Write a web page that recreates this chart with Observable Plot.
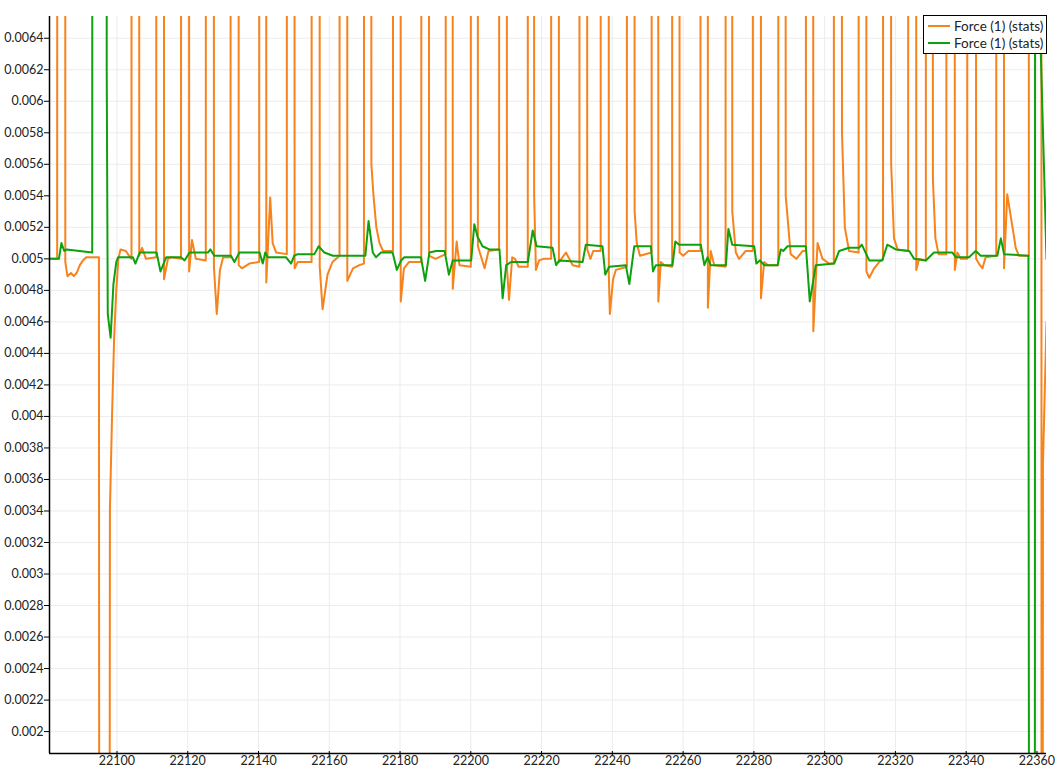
<!DOCTYPE html>
<html><head><meta charset="utf-8">
<script src="https://cdn.jsdelivr.net/npm/d3@7"></script>
<script src="https://cdn.jsdelivr.net/npm/@observablehq/plot@0.6"></script>
<style>
body{margin:0;background:#fff;}
#wrap{position:relative;width:1059px;height:769px;}
#legend{position:absolute;left:923px;top:15px;width:122px;height:37px;border:1px solid #000;background:#fff;font:13.5px Lato, sans-serif;color:#222;}
.row{position:absolute;left:4px;height:16px;display:flex;align-items:center;white-space:nowrap;}
.sw{width:22px;height:2px;margin-right:4px;}
</style></head>
<body><div id="wrap"><div id="legend"></div></div>
<script>
const seriesNames = ["Force (1) (stats)", "Force (1) (stats)"];
const seriesColors = ["#f7831c", "#0ea10e"];
const xTicks = [22100,22120,22140,22160,22180,22200,22220,22240,22260,22280,22300,22320,22340,22360];
const yTicks = [0.002,0.0022,0.0024,0.0026,0.0028,0.003,0.0032,0.0034,0.0036,0.0038,0.004,0.0042,0.0044,0.0046,0.0048,0.005,0.0052,0.0054,0.0056,0.0058,0.006,0.0062,0.0064];
const xDomain = [22080.93, 22362.7];
const yDomain = [0.001861, 0.006538];

// orange series: [time, value]; 0.02 / 0.0 = far off the visible range
const orangeSeries = [[22080.9,0.00500],[22083.1,0.00500],[22083.2,0.02],[22085.3,0.02],[22085.4,0.00498],[22086.0,0.00489],[22087.0,0.00491],[22087.8,0.00489],[22088.6,0.00491],[22089.5,0.00496],[22090.4,0.00499],[22091.3,0.00501],[22094.9,0.00501],[22095.0,0.0],[22097.9,0.0],[22098.0,0.0034],[22098.6,0.0040],[22099.2,0.0045],[22099.8,0.0048],[22100.4,0.00500],[22101.0,0.00506],[22102.5,0.00505],[22103.7,0.00501],[22104.1,0.00500],[22104.2,0.02],[22106.2,0.02],[22106.3,0.00502],[22107.1,0.00507],[22108.2,0.00500],[22111.1,0.00501],[22111.2,0.02],[22113.2,0.02],[22113.3,0.00487],[22114.4,0.00500],[22115.3,0.00501],[22118.1,0.00500],[22118.2,0.02],[22120.3,0.02],[22120.4,0.00492],[22121.2,0.00512],[22122.3,0.00500],[22125.1,0.00499],[22125.2,0.02],[22127.3,0.02],[22127.4,0.00495],[22128.2,0.00465],[22129.1,0.00493],[22130.0,0.00501],[22132.1,0.00501],[22132.2,0.02],[22134.3,0.02],[22134.4,0.00496],[22135.3,0.00494],[22137.4,0.00497],[22140.2,0.00498],[22140.3,0.02],[22142.1,0.02],[22142.2,0.00485],[22143.3,0.00539],[22144.0,0.00510],[22145.0,0.00504],[22148.0,0.00503],[22148.1,0.02],[22150.1,0.02],[22150.2,0.00494],[22151.1,0.00498],[22155.0,0.00498],[22155.1,0.02],[22157.2,0.02],[22157.3,0.00495],[22158.1,0.00468],[22159.5,0.00490],[22160.9,0.00498],[22162.9,0.00502],[22163.0,0.02],[22165.0,0.02],[22165.1,0.00486],[22166.7,0.00494],[22168.5,0.00496],[22169.8,0.00497],[22169.9,0.02],[22171.7,0.02],[22171.9,0.0056],[22172.5,0.0054],[22173.3,0.0052],[22174.2,0.00510],[22175.2,0.00505],[22178.0,0.00505],[22178.1,0.02],[22180.1,0.02],[22180.2,0.00473],[22181.1,0.00494],[22182.5,0.00498],[22186.0,0.00498],[22186.1,0.02],[22188.1,0.02],[22188.2,0.00502],[22190.0,0.00500],[22192.9,0.00503],[22193.0,0.02],[22194.8,0.02],[22194.9,0.00481],[22196.0,0.00511],[22196.8,0.00496],[22200.0,0.00495],[22200.1,0.02],[22201.9,0.02],[22202.0,0.00508],[22203.9,0.00494],[22205.0,0.00505],[22208.0,0.00506],[22208.1,0.02],[22210.1,0.02],[22210.2,0.00495],[22210.8,0.00474],[22211.7,0.00501],[22212.5,0.00500],[22213.5,0.00495],[22216.1,0.00495],[22216.2,0.02],[22217.7,0.02],[22217.9,0.0054],[22218.4,0.00493],[22219.3,0.00499],[22220.5,0.00500],[22222.7,0.00500],[22222.8,0.02],[22224.8,0.02],[22224.9,0.00498],[22225.6,0.00500],[22226.9,0.00504],[22228.8,0.00496],[22230.7,0.00495],[22230.8,0.02],[22232.8,0.02],[22232.9,0.00506],[22233.8,0.00500],[22234.6,0.00505],[22236.7,0.00505],[22236.8,0.02],[22238.9,0.02],[22239.0,0.00490],[22239.3,0.00465],[22240.2,0.00487],[22241.0,0.00493],[22244.1,0.00495],[22244.2,0.02],[22246.1,0.02],[22246.3,0.0053],[22246.9,0.00510],[22247.8,0.00502],[22251.1,0.00504],[22251.2,0.02],[22252.8,0.02],[22253.0,0.00473],[22253.7,0.00498],[22254.7,0.00496],[22256.9,0.00495],[22257.0,0.02],[22258.9,0.02],[22259.0,0.00504],[22260.0,0.00502],[22261.5,0.00505],[22264.9,0.00505],[22265.0,0.02],[22266.9,0.02],[22267.0,0.00469],[22267.8,0.00505],[22268.8,0.00496],[22272.0,0.00495],[22272.1,0.02],[22273.7,0.02],[22273.9,0.0053],[22274.9,0.00504],[22275.8,0.00500],[22277.7,0.00505],[22279.7,0.00505],[22279.8,0.02],[22281.9,0.02],[22282.0,0.00475],[22282.9,0.00498],[22284.0,0.00496],[22286.9,0.00496],[22287.0,0.02],[22288.8,0.02],[22289.0,0.0054],[22290.4,0.00503],[22292.0,0.00500],[22293.8,0.00505],[22294.7,0.00505],[22294.8,0.02],[22296.6,0.02],[22296.8,0.00454],[22298.0,0.00510],[22299.4,0.00500],[22301.3,0.00497],[22302.6,0.00497],[22302.7,0.02],[22304.6,0.02],[22304.9,0.0058],[22305.7,0.0052],[22306.9,0.00505],[22309.6,0.00504],[22309.7,0.02],[22311.7,0.02],[22311.8,0.00492],[22312.6,0.00488],[22314.0,0.00494],[22315.4,0.00498],[22316.5,0.00500],[22316.6,0.02],[22318.5,0.02],[22318.8,0.0056],[22319.6,0.00513],[22320.6,0.00506],[22323.6,0.00505],[22323.7,0.02],[22325.7,0.02],[22325.9,0.00493],[22326.7,0.00500],[22328.6,0.00499],[22328.7,0.02],[22330.4,0.02],[22330.6,0.0055],[22331.3,0.00513],[22332.2,0.00503],[22334.4,0.00503],[22334.5,0.02],[22336.6,0.02],[22336.8,0.00493],[22337.5,0.00504],[22338.5,0.00500],[22340.3,0.00500],[22340.4,0.02],[22342.7,0.02],[22342.8,0.00500],[22343.6,0.00497],[22344.6,0.00494],[22345.5,0.00501],[22348.5,0.00502],[22348.6,0.02],[22350.5,0.02],[22350.7,0.00494],[22351.6,0.00541],[22353.1,0.00520],[22354.0,0.00507],[22354.9,0.00502],[22357.7,0.00502],[22357.8,0.02],[22361.2,0.02],[22361.3,0.0],[22361.6,0.0],[22361.7,0.0037],[22362.7,0.0046]];

const greenSeries = [[22080.9,0.00500],[22083.6,0.00500],[22084.3,0.00510],[22085.1,0.00505],[22085.8,0.00506],[22093.0,0.00504],[22093.2,0.02],[22097.0,0.02],[22097.1,0.0062],[22097.4,0.00465],[22098.2,0.00450],[22099.0,0.00484],[22099.8,0.00498],[22100.3,0.00501],[22104.5,0.00501],[22105.2,0.00497],[22106.4,0.00504],[22111.2,0.00504],[22112.3,0.00492],[22113.9,0.00501],[22118.1,0.00501],[22119.1,0.00499],[22120.5,0.00504],[22125.7,0.00504],[22126.4,0.00506],[22127.5,0.00502],[22132.2,0.00502],[22133.2,0.00498],[22134.6,0.00504],[22140.3,0.00504],[22141.2,0.00497],[22141.9,0.00504],[22142.6,0.00501],[22147.8,0.00501],[22149.2,0.00497],[22150.1,0.00502],[22151.1,0.00503],[22155.8,0.00503],[22157.0,0.00508],[22158.6,0.00504],[22161.0,0.00502],[22170.2,0.00502],[22171.1,0.00524],[22172.3,0.00504],[22173.2,0.00501],[22174.6,0.00504],[22177.9,0.00504],[22179.1,0.00493],[22180.3,0.00499],[22181.2,0.00501],[22185.9,0.00501],[22187.1,0.00486],[22188.3,0.00504],[22190.2,0.00505],[22192.6,0.00505],[22193.8,0.00490],[22194.9,0.00499],[22200.1,0.00499],[22201.0,0.00522],[22201.9,0.00514],[22203.3,0.00508],[22205.2,0.00506],[22208.1,0.00506],[22209.0,0.00475],[22210.0,0.00496],[22211.4,0.00498],[22216.1,0.00498],[22217.5,0.00518],[22218.6,0.00508],[22223.1,0.00507],[22224.1,0.00496],[22225.0,0.00499],[22231.6,0.00498],[22232.5,0.00509],[22237.2,0.00508],[22238.0,0.00490],[22239.1,0.00495],[22243.8,0.00496],[22244.8,0.00484],[22246.2,0.00508],[22250.9,0.00508],[22251.5,0.00492],[22252.3,0.00496],[22257.0,0.00496],[22257.8,0.00511],[22258.9,0.00509],[22265.0,0.00509],[22266.0,0.00496],[22266.9,0.00501],[22267.8,0.00496],[22272.1,0.00496],[22272.8,0.00519],[22273.9,0.00509],[22280.1,0.00508],[22280.7,0.00497],[22281.7,0.00499],[22282.9,0.00496],[22286.7,0.00496],[22287.6,0.00506],[22288.3,0.00505],[22289.5,0.00508],[22294.7,0.00508],[22295.8,0.00473],[22297.5,0.00496],[22302.7,0.00497],[22304.1,0.00505],[22306.9,0.00507],[22309.7,0.00507],[22310.5,0.00509],[22312.6,0.00499],[22316.3,0.00499],[22317.7,0.00509],[22320.1,0.00506],[22323.9,0.00505],[22325.3,0.00500],[22328.6,0.00499],[22330.9,0.00504],[22336.1,0.00504],[22337.1,0.00501],[22340.8,0.00501],[22342.7,0.00505],[22344.1,0.00502],[22348.8,0.00502],[22349.8,0.00513],[22350.7,0.00503],[22357.6,0.00502],[22357.8,0.0],[22359.4,0.0],[22359.6,0.02],[22360.9,0.02],[22361.1,0.0063],[22362.7,0.0050]];

const toRows = s => s.map(([t, v]) => ({t, v}));
const orange = toRows(orangeSeries), green = toRows(greenSeries);
const fmt = d => String(d);

const chart = Plot.plot({
  width: 1059, height: 769,
  marginLeft: 49, marginRight: 13, marginTop: 16, marginBottom: 16,
  style: {fontFamily: "Lato, sans-serif", fontSize: "12.5px", color: "#222", background: "#fff"},
  x: {domain: xDomain, label: null},
  y: {domain: yDomain, label: null},
  marks: [
    Plot.gridX(xTicks, {stroke: "#ececec", strokeOpacity: 1}),
    Plot.gridY(yTicks, {stroke: "#ececec", strokeOpacity: 1}),
    Plot.line(orange, {x: "t", y: "v", stroke: seriesColors[0], strokeWidth: 2, clip: true}),
    Plot.line(green, {x: "t", y: "v", stroke: seriesColors[1], strokeWidth: 2, clip: true}),
    Plot.axisX(xTicks, {tickSize: 5, tickPadding: 0, dy: -2, tickFormat: fmt, stroke: "#000", fill: "#222", label: null}),
    Plot.axisY(yTicks, {tickSize: 5, tickPadding: 1, tickFormat: fmt, stroke: "#000", fill: "#222", label: null}),
    Plot.ruleX([xDomain[0]], {stroke: "#000", strokeWidth: 1.5}),
    Plot.ruleY([yDomain[0]], {stroke: "#000", strokeWidth: 1.5})
  ]
});
const wrap = document.getElementById("wrap");
wrap.insertBefore(chart, wrap.firstChild);

const legend = document.getElementById("legend");
seriesNames.forEach((name, i) => {
  const row = document.createElement("div");
  row.className = "row";
  row.style.top = (2 + i * 17) + "px";
  const sw = document.createElement("div");
  sw.className = "sw";
  sw.style.background = seriesColors[i];
  const tx = document.createElement("span");
  tx.textContent = name;
  row.appendChild(sw); row.appendChild(tx);
  legend.appendChild(row);
});
</script></body></html>
